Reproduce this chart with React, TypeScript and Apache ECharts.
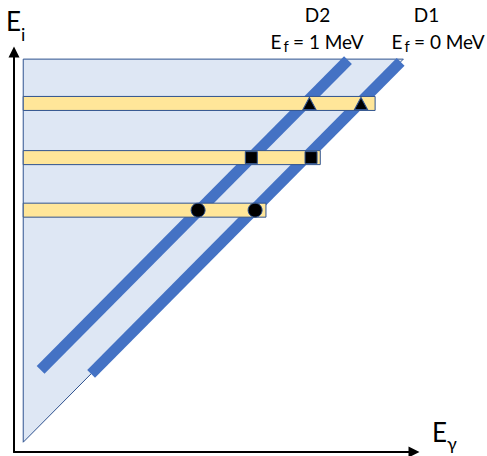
import React, { useEffect, useRef } from "react";
import * as echarts from "echarts";

// Physical layout of the diagram (units: MeV)
const regionTriangle: [number, number][] = [[0, 0], [0, 7], [7, 7]]; // Eγ <= Ei
const d1Line: [number, number][] = [[1.25, 1.25], [6.95, 6.95]]; // Ef = 0 MeV
const d2Line: [number, number][] = [[0.32, 1.32], [5.98, 6.98]]; // Ef = 1 MeV
const levelEi = [6.19, 5.2, 4.24]; // initial energies (yellow bars)
const barStart = [0, 0, 0];
const barEnd = [6.48, 5.47, 4.47];
const d2Gamma = [5.27, 4.2, 3.22]; // markers on D2
const d1Gamma = [6.22, 5.3, 4.27]; // markers on D1
const markerShapes = ["triangle", "rect", "circle"];
const markerSizes: (number | number[])[] = [[13, 12], 12, 14];

const FONT = "Lato, 'Open Sans', sans-serif";

export default function App() {
  const ref = useRef<HTMLDivElement>(null);
  useEffect(() => {
    if (!ref.current) return;
    const chart = echarts.init(ref.current, undefined, { renderer: "svg" });

    const axisCommon = {
      type: "value" as const,
      axisLine: {
        show: true,
        onZero: false,
        symbol: ["none", "triangle"],
        symbolSize: [11, 11],
        lineStyle: { color: "#000", width: 2 },
      },
      axisTick: { show: false },
      axisLabel: { show: false },
      splitLine: { show: false },
    };

    const markerData: any[] = [];
    levelEi.forEach((ei, i) => {
      [d2Gamma[i], d1Gamma[i]].forEach((g) => {
        markerData.push({
          value: [g, ei],
          symbol: markerShapes[i],
          symbolSize: markerSizes[i],
        });
      });
    });

    const txt = (text: string, x: number, y: number, size: number, align = "left") => ({
      type: "text",
      x,
      y,
      silent: true,
      style: {
        text,
        font: `${size}px ${FONT}`,
        fill: "#000",
        align,
        verticalAlign: "middle",
      },
    });

    chart.setOption({
      animation: false,
      grid: { left: 14, top: 52, width: 400, height: 400 },
      xAxis: { ...axisCommon, min: -0.17, max: 7.196 },
      yAxis: { ...axisCommon, min: -0.179, max: 7.13 },
      series: [
        {
          type: "custom",
          z: 1,
          silent: true,
          data: [0],
          renderItem: (params: any, api: any) => ({
            type: "polygon",
            shape: { points: regionTriangle.map((p) => api.coord(p)) },
            style: { fill: "#DEE7F4", stroke: "#2F528F", lineWidth: 1 },
          }),
        },
        {
          type: "line",
          z: 2,
          silent: true,
          symbol: "none",
          data: d2Line,
          lineStyle: { color: "#4472C4", width: 11, cap: "butt" },
        },
        {
          type: "line",
          z: 2,
          silent: true,
          symbol: "none",
          data: d1Line,
          lineStyle: { color: "#4472C4", width: 11, cap: "butt" },
        },
        {
          type: "custom",
          z: 3,
          silent: true,
          data: levelEi.map((e, i) => [barStart[i], barEnd[i], e]),
          renderItem: (params: any, api: any) => {
            const s = api.coord([api.value(0), api.value(2)]);
            const e = api.coord([api.value(1), api.value(2)]);
            return {
              type: "rect",
              shape: { x: s[0], y: s[1] - 7, width: e[0] - s[0], height: 14 },
              style: { fill: "#FFE699", stroke: "#2F528F", lineWidth: 1 },
            };
          },
        },
        {
          type: "scatter",
          z: 4,
          silent: true,
          data: markerData,
          itemStyle: { color: "#000", borderColor: "#2F528F", borderWidth: 1, opacity: 1 },
        },
      ],
      graphic: [
        txt("E", 6, 21, 26),
        txt("i", 21, 34, 18),
        txt("E", 432, 432, 26),
        txt("γ", 447, 443, 18),
        txt("D2", 317.5, 14.5, 19, "center"),
        txt("E", 270.5, 41.5, 19),
        txt("f", 283.5, 46, 15),
        txt("= 1 MeV", 293, 41.5, 19),
        txt("D1", 426.5, 14.5, 19, "center"),
        txt("E", 391.5, 41.5, 19),
        txt("f", 404.5, 46, 15),
        txt("= 0 MeV", 414, 41.5, 19),
      ],
    });
    return () => chart.dispose();
  }, []);
  return (
    <div
      ref={ref}
      style={{ position: "absolute", left: 0, top: 0, width: 487, height: 456, background: "#fff" }}
    />
  );
}
